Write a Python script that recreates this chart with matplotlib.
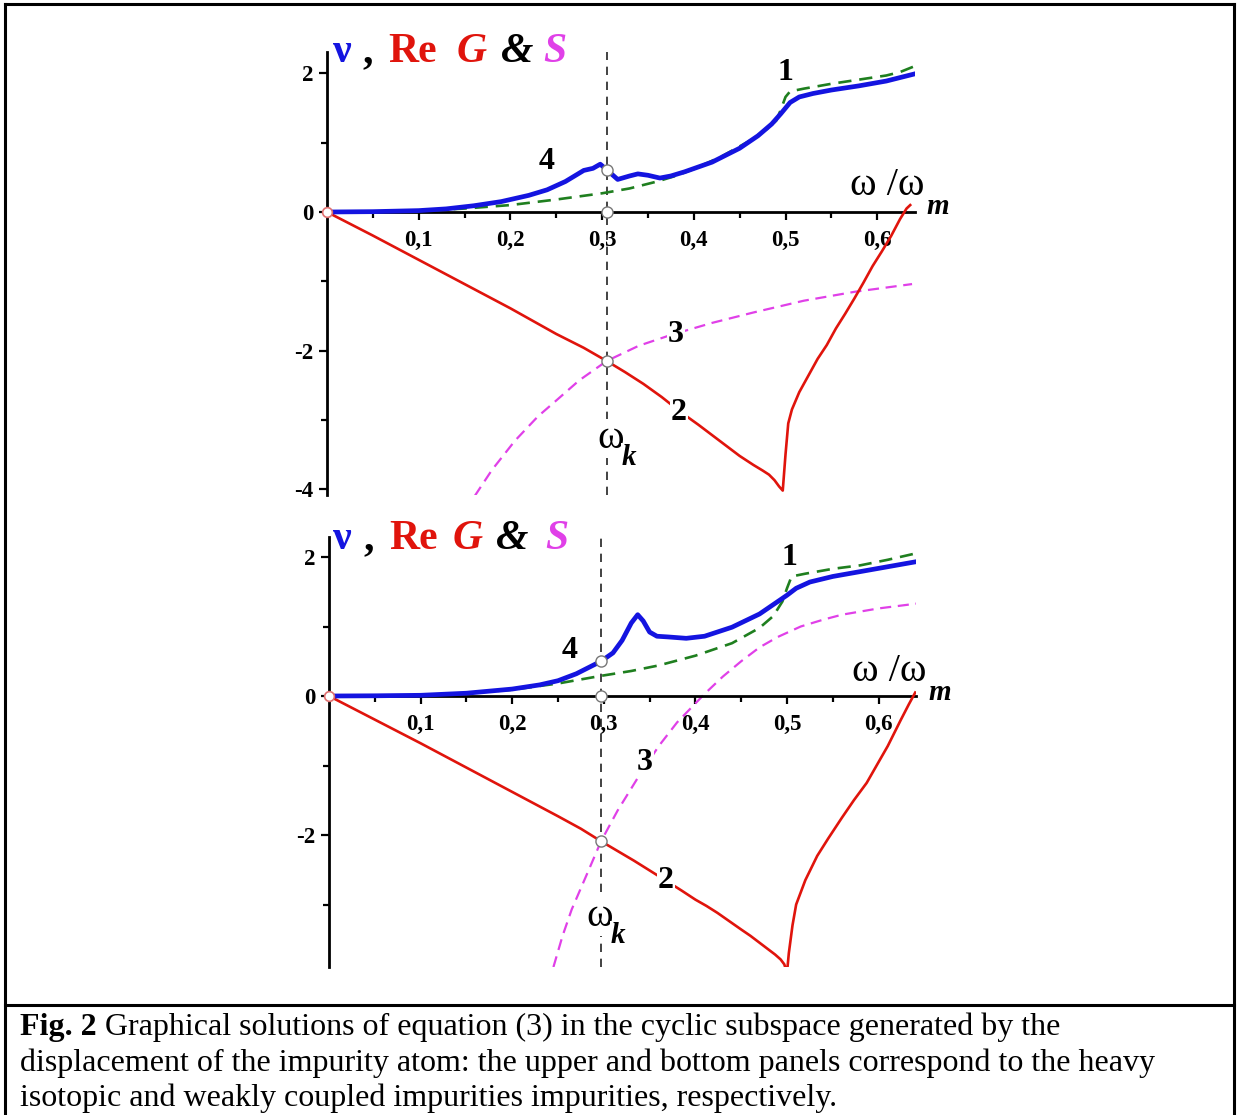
import matplotlib
matplotlib.use('Agg')
import matplotlib.pyplot as plt
from matplotlib.lines import Line2D
from matplotlib.ticker import FixedLocator, FixedFormatter

plt.rcParams['axes.unicode_minus'] = False
plt.rcParams['font.family'] = ['Liberation Serif', 'DejaVu Serif']

# ---------------- data: upper panel (heavy isotopic impurity) ----------------
top_nu_x = [0.0, 0.05, 0.10, 0.13, 0.16, 0.19, 0.22, 0.24, 0.26, 0.27, 0.28, 0.29,
            0.298, 0.305, 0.317, 0.33, 0.339, 0.35, 0.363, 0.375, 0.39, 0.42, 0.45,
            0.47, 0.485, 0.495, 0.505, 0.515, 0.53, 0.55, 0.58, 0.61, 0.64]
top_nu_y = [0.0, 0.005, 0.02, 0.045, 0.09, 0.15, 0.24, 0.32, 0.44, 0.52, 0.60, 0.63,
            0.69, 0.61, 0.47, 0.52, 0.55, 0.53, 0.49, 0.52, 0.58, 0.72, 0.92,
            1.10, 1.27, 1.42, 1.58, 1.66, 1.71, 1.76, 1.82, 1.89, 1.99]

top_nu0_x = [0.0, 0.10, 0.15, 0.20, 0.25, 0.30, 0.33, 0.36, 0.38, 0.40, 0.43, 0.46,
             0.48, 0.49, 0.495, 0.50, 0.505, 0.52, 0.55, 0.58, 0.61, 0.625, 0.64]
top_nu0_y = [0.0, 0.015, 0.05, 0.10, 0.18, 0.27, 0.34, 0.44, 0.52, 0.62, 0.80, 1.02,
             1.20, 1.32, 1.48, 1.66, 1.74, 1.78, 1.85, 1.91, 1.97, 2.02, 2.10]

top_reG_x = [0.0, 0.05, 0.10, 0.15, 0.20, 0.25, 0.28, 0.305, 0.325, 0.345, 0.365, 0.385,
             0.405, 0.42, 0.435, 0.45, 0.465, 0.475, 0.482, 0.488, 0.493, 0.497,
             0.500, 0.503, 0.507, 0.515, 0.525, 0.535, 0.545, 0.555, 0.565, 0.575,
             0.585, 0.595, 0.605, 0.615, 0.625, 0.632, 0.636]
top_reG_y = [0.0, -0.34, -0.69, -1.04, -1.39, -1.76, -1.96, -2.15, -2.31, -2.48, -2.67, -2.88,
             -3.07, -3.22, -3.37, -3.52, -3.65, -3.73, -3.79, -3.87, -3.96, -4.02,
             -3.50, -3.05, -2.85, -2.60, -2.36, -2.12, -1.92, -1.68, -1.47, -1.25,
             -1.02, -0.78, -0.57, -0.35, -0.10, 0.05, 0.10]

top_S_x = [0.161, 0.18, 0.205, 0.23, 0.25, 0.275, 0.305, 0.34, 0.376, 0.42, 0.465,
           0.52, 0.576, 0.61, 0.638]
top_S_y = [-4.10, -3.72, -3.30, -2.95, -2.72, -2.43, -2.15, -1.93, -1.77, -1.60, -1.45,
           -1.28, -1.15, -1.09, -1.04]

top_wk = 0.305
top_nu_at_wk = 0.61
top_G_at_wk = -2.15

# ---------------- data: bottom panel (weakly coupled impurity) ----------------
bot_nu_x = [0.0, 0.05, 0.10, 0.15, 0.20, 0.23, 0.25, 0.27, 0.285, 0.297, 0.31, 0.32,
            0.33, 0.337, 0.343, 0.35, 0.358, 0.37, 0.39, 0.41, 0.44, 0.47, 0.49,
            0.50, 0.51, 0.525, 0.55, 0.58, 0.61, 0.64]
bot_nu_y = [0.0, 0.003, 0.01, 0.04, 0.10, 0.16, 0.22, 0.32, 0.42, 0.50, 0.62, 0.80,
            1.05, 1.17, 1.08, 0.92, 0.86, 0.85, 0.83, 0.86, 0.99, 1.18, 1.36,
            1.45, 1.55, 1.64, 1.72, 1.79, 1.86, 1.93]

bot_nu0_x = [0.0, 0.10, 0.15, 0.20, 0.25, 0.297, 0.33, 0.36, 0.40, 0.44, 0.47, 0.485,
             0.495, 0.50, 0.505, 0.52, 0.55, 0.58, 0.61, 0.64]
bot_nu0_y = [0.0, 0.01, 0.04, 0.09, 0.18, 0.29, 0.36, 0.44, 0.58, 0.76, 0.98, 1.15,
             1.36, 1.55, 1.72, 1.76, 1.83, 1.88, 1.96, 2.05]

bot_reG_x = [0.0, 0.05, 0.10, 0.15, 0.20, 0.25, 0.275, 0.297, 0.315, 0.333, 0.35, 0.367,
             0.385, 0.40, 0.412, 0.424, 0.437, 0.45, 0.46, 0.47, 0.48, 0.487, 0.493,
             0.497, 0.500, 0.502, 0.506, 0.51, 0.52, 0.533, 0.545, 0.56,
             0.573, 0.587, 0.60, 0.61, 0.624, 0.633, 0.64]
bot_reG_y = [0.0, -0.34, -0.68, -1.03, -1.38, -1.73, -1.91, -2.09, -2.23, -2.37, -2.51, -2.65,
             -2.80, -2.93, -3.02, -3.12, -3.24, -3.36, -3.45, -3.55, -3.65, -3.72, -3.79,
             -3.86, -3.98, -3.70, -3.30, -3.00, -2.65, -2.30, -2.05, -1.75,
             -1.50, -1.25, -0.95, -0.72, -0.35, -0.12, 0.05]

bot_S_x = [0.245, 0.255, 0.265, 0.283, 0.297, 0.315, 0.337, 0.36, 0.38, 0.41, 0.43,
           0.45, 0.47, 0.49, 0.515, 0.54, 0.56, 0.60, 0.642]
bot_S_y = [-3.90, -3.45, -3.07, -2.52, -2.09, -1.65, -1.18, -0.72, -0.38, 0.03, 0.28,
           0.50, 0.70, 0.85, 1.00, 1.10, 1.17, 1.26, 1.33]

bot_wk = 0.297
bot_nu_at_wk = 0.50
bot_G_at_wk = -2.09

x_ticks = [0.1, 0.2, 0.3, 0.4, 0.5, 0.6]
x_tick_labels = ['0,1', '0,2', '0,3', '0,4', '0,5', '0,6']
x_minor = [0.05, 0.15, 0.25, 0.35, 0.45, 0.55]
y_ticks = [-4, -2, 0, 2]
y_tick_labels = ['-4', '-2', '0', '2']
y_minor = [-3, -1, 1]

caption_bold = 'Fig. 2'
caption_lines = [
    ' Graphical solutions of equation (3) in the cyclic subspace generated by the',
    'displacement of the impurity atom: the upper and bottom panels correspond to the heavy',
    'isotopic and weakly coupled impurities impurities, respectively.',
]

# ---------------- styles ----------------
BLUE = '#1414e0'
RED = '#e0140c'
GREEN = '#1f7f1f'
MAGENTA = '#e040e8'
SERIF = ['Liberation Serif', 'DejaVu Serif']

W, H = 1238, 1115
fig = plt.figure(figsize=(W / 100, H / 100), dpi=100)


def fx(px):
    return px / W


def fy(py):
    return 1 - py / H


def make_axes(x0px, scale_x, y0px, scale_y, xmax, ymin, ymax):
    left = fx(x0px)
    width = xmax * scale_x / W
    top_px = y0px - ymax * scale_y
    bot_px = y0px - ymin * scale_y
    ax = fig.add_axes([left, fy(bot_px), width, (bot_px - top_px) / H])
    ax.set_xlim(0, xmax)
    ax.set_ylim(ymin, ymax)
    ax.patch.set_alpha(0)
    for s in ['top', 'right']:
        ax.spines[s].set_visible(False)
    ax.spines['bottom'].set_position(('data', 0))
    ax.spines['left'].set_linewidth(2.0)
    ax.spines['bottom'].set_linewidth(2.0)
    ax.xaxis.set_major_locator(FixedLocator(x_ticks))
    ax.xaxis.set_major_formatter(FixedFormatter(x_tick_labels))
    ax.xaxis.set_minor_locator(FixedLocator(x_minor))
    ax.yaxis.set_major_locator(FixedLocator(y_ticks))
    ax.yaxis.set_major_formatter(FixedFormatter(y_tick_labels))
    ax.yaxis.set_minor_locator(FixedLocator(y_minor))
    ax.tick_params(which='major', direction='out', length=6, width=1.6)
    ax.tick_params(which='minor', direction='out', length=4, width=1.6)
    ax.tick_params(axis='x', which='major', pad=7)
    ax.tick_params(axis='y', which='major', pad=4)
    for lab in ax.get_xticklabels() + ax.get_yticklabels():
        lab.set_fontfamily(SERIF)
        lab.set_fontweight('bold')
        lab.set_fontsize(16.5)
    return ax


def draw_panel(ax, nu_x, nu_y, nu0_x, nu0_y, g_x, g_y, s_x, s_y, wk, nu_wk, g_wk):
    ax.axvline(wk, color='#222222', lw=1.2, ls=(0, (5, 4)), zorder=1)
    ax.plot(s_x, s_y, color=MAGENTA, lw=1.6, ls=(0, (5, 3)), zorder=2)
    ax.plot(g_x, g_y, color=RED, lw=1.9, zorder=3, solid_joinstyle='round')
    ax.plot(nu0_x, nu0_y, color=GREEN, lw=1.9, ls=(0, (5, 3)), zorder=4)
    ax.plot(nu_x, nu_y, color=BLUE, lw=3.4, zorder=5, solid_joinstyle='round')
    ax.plot([wk, wk, wk], [nu_wk, 0, g_wk], ls='none', marker='o', ms=8,
            mfc='white', mec='#777777', mew=1.0, zorder=6, clip_on=False)
    ax.plot([0], [0], ls='none', marker='o', ms=7, mfc='white', mec='#e07070',
            mew=1.2, zorder=6, clip_on=False)


ax_top = make_axes(327, 917, 212, 69.3, 0.641, -4.08, 2.31)
draw_panel(ax_top, top_nu_x, top_nu_y, top_nu0_x, top_nu0_y, top_reG_x, top_reG_y,
           top_S_x, top_S_y, top_wk, top_nu_at_wk, top_G_at_wk)

ax_bot = make_axes(329, 916, 696, 69.5, 0.641, -3.9, 2.29)
draw_panel(ax_bot, bot_nu_x, bot_nu_y, bot_nu0_x, bot_nu0_y, bot_reG_x, bot_reG_y,
           bot_S_x, bot_S_y, bot_wk, bot_nu_at_wk, bot_G_at_wk)


def ftext(px, py, s, **kw):
    kw.setdefault('family', SERIF)
    return fig.text(fx(px), fy(py), s, **kw)


WHITE_BOX = dict(facecolor='white', edgecolor='none', pad=0.5)


def panel_labels(pieces_x, base_y, nums, omega_pos, wk_pos):
    parts = [('ν', BLUE, 'bold', 'normal'), (',', 'black', 'bold', 'normal'),
             ('Re', RED, 'bold', 'normal'), ('G', RED, 'bold', 'italic'),
             ('&', 'black', 'bold', 'italic'), ('S', MAGENTA, 'bold', 'italic')]
    for (txt, col, wt, st), px in zip(parts, pieces_x):
        ftext(px, base_y, txt, color=col, fontweight=wt, fontstyle=st,
              fontsize=30, ha='left', va='baseline', zorder=10)
    for txt, (px, py) in nums:
        ftext(px, py, txt, fontweight='bold', fontsize=23, ha='center', va='center',
              bbox=WHITE_BOX, zorder=10)
    ox, oy = omega_pos
    ftext(ox, oy, 'ω /ω', fontsize=29, ha='center', va='baseline', zorder=10)
    ftext(ox + 51, oy + 19, 'm', fontsize=21, fontstyle='italic', fontweight='bold',
          ha='center', va='baseline', zorder=10)
    wx, wy = wk_pos
    ftext(wx, wy, 'ω', fontsize=29, ha='center', va='baseline', zorder=10, bbox=WHITE_BOX)
    ftext(wx + 18, wy + 17, 'k', fontsize=21, fontstyle='italic', fontweight='bold',
          ha='center', va='baseline', zorder=10, bbox=WHITE_BOX)


panel_labels([333, 362, 388, 457, 501, 543], 62,
             [('1', (785, 73)), ('4', (547, 162)), ('3', (676, 335)), ('2', (679, 412))],
             (887, 195), (611, 448))
panel_labels([333, 363, 389, 453, 496, 545], 549,
             [('1', (789, 557)), ('4', (570, 650)), ('3', (645, 763)), ('2', (666, 880))],
             (889, 681), (600, 926))

# frame lines
for (xs, ys) in [([5, 5], [4, H]), ([1234, 1234], [4, H]), ([5, 1234], [4, 4]),
                 ([5, 1234], [1005, 1005])]:
    fig.add_artist(Line2D([fx(v) for v in xs], [fy(v) for v in ys], color='black',
                          lw=2.2, transform=fig.transFigure))

# caption
CAP_FS = 23
r = fig.canvas.get_renderer()
t0 = ftext(20, 1035, caption_bold, fontweight='bold', fontsize=CAP_FS, ha='left', va='baseline')
bb = t0.get_window_extent(renderer=r)
ftext(20 + bb.width, 1035, caption_lines[0], fontsize=CAP_FS, ha='left', va='baseline')
ftext(20, 1071, caption_lines[1], fontsize=CAP_FS, ha='left', va='baseline')
ftext(20, 1106, caption_lines[2], fontsize=CAP_FS, ha='left', va='baseline')

fig.savefig('out.png', dpi=100, facecolor='white')
